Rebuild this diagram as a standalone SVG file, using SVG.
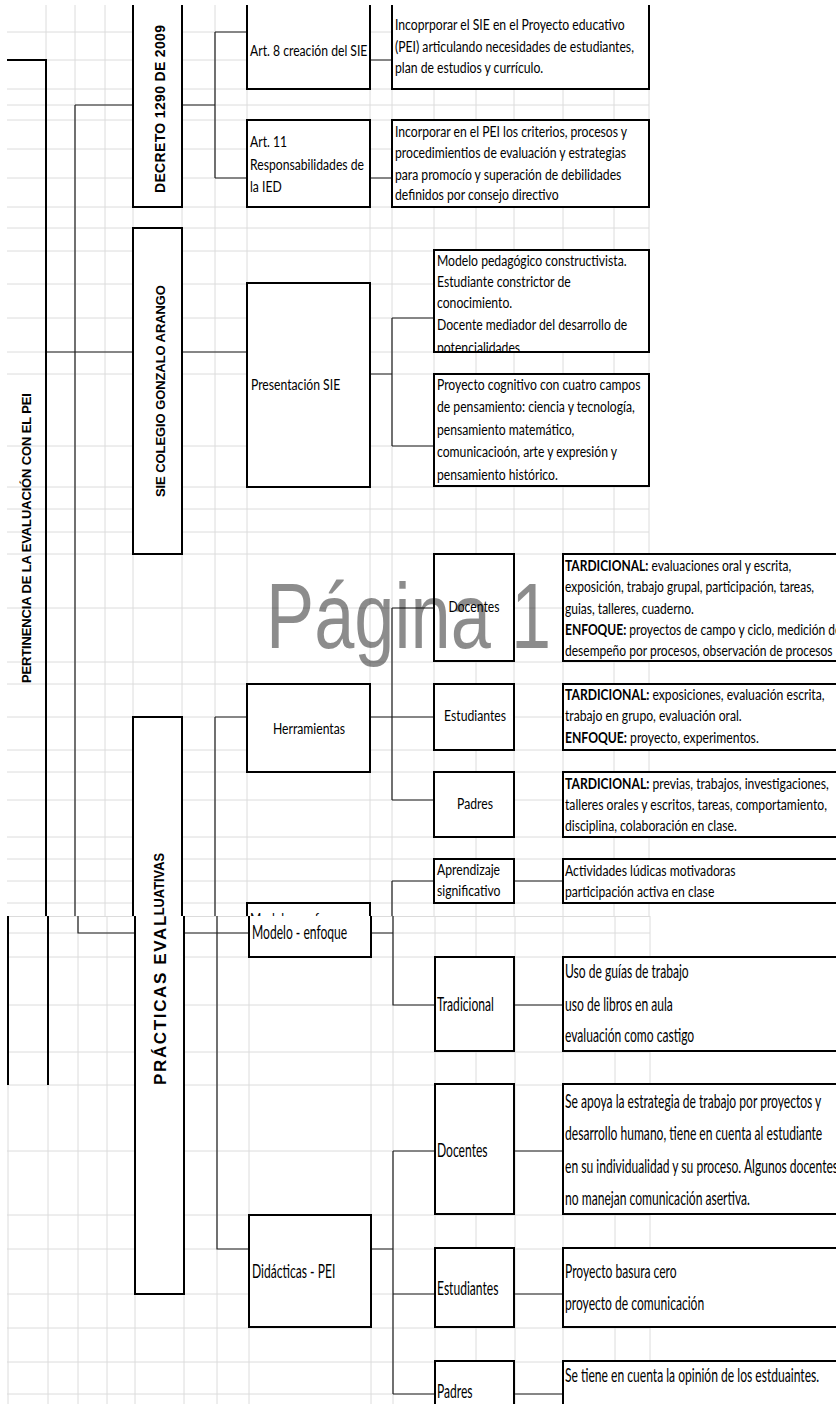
<svg xmlns="http://www.w3.org/2000/svg" width="836" height="1404" viewBox="0 0 836 1404">
<style>
  .grid { fill: none; stroke: #dcdcdc; stroke-width: 1; }
  .box { fill: #fff; stroke: #000; stroke-width: 2; }
  .edge { fill: none; stroke: #000; stroke-width: 2; }
  .conn { fill: none; stroke: #1e1e1e; stroke-width: 1.2; }
  .t { font-family: Lato, "Liberation Sans", sans-serif; font-size: 14.5px; fill: #000; }
  .b { font-family: Lato, "Liberation Sans", sans-serif; font-size: 19.5px; fill: #000; }
  .v { font-family: "Liberation Sans", Arial, sans-serif; font-weight: bold; font-size: 13px; fill: #000; }
  .v14 { font-size: 14px; }
  .v15 { font-size: 15px; }
  .v17 { font-size: 17px; }
  .bold { font-weight: bold; }
</style>
<defs>
  <clipPath id="clipTop"><rect x="0" y="5" width="836" height="911"/></clipPath>
  <clipPath id="clipBot"><rect x="0" y="916" width="836" height="488"/></clipPath>
  <clipPath id="clipModelo"><rect x="434" y="250" width="215" height="101"/></clipPath>
</defs>
<rect width="836" height="1404" fill="#fff"/>

<!-- spreadsheet grid, upper sheet -->
<g id="grid-top" clip-path="url(#clipTop)">
  <path class="grid" d="M46 5V916M75 5V916M105 5V916M133 5V916M182 5V916M215 5V916M247 5V916M370 5V916M392 5V916M434 5V916M476 5V916M514 5V916M563 5V916M614 5V916M649 5V916"/>
  <path class="grid" d="M7 32H649M7 60H649M7 89H649M7 105H649M7 120H649M7 149H649M7 178H649M7 207H649M7 228H649M7 251H649M7 284H649M7 318H649M7 352H649M7 374H649M7 446H649M7 487H649M7 509H649M7 532H649M7 554H649M7 608H649M7 662H649M7 684H649M7 717H649M7 750H649M7 772H649M7 800H649M7 837H649M7 859H649M7 881H649M7 903H649"/>
</g>
<!-- spreadsheet grid, lower sheet -->
<g id="grid-bottom" clip-path="url(#clipBot)">
  <path class="grid" d="M8 916V1404M48 916V1404M78 916V1404M107 916V1404M135 916V1404M184 916V1404M217 916V1404M249 916V1404M371 916V1404M393 916V1404M435 916V1404M476 916V1404M515 916V1404M563 916V1404M615 916V1404M650 916V1404"/>
  <path class="grid" d="M7 916.5H650M7 933H650M7 957H650M7 1005H650M7 1052H650M7 1085H650M7 1151H650M7 1215H650M7 1249H650M7 1294H650M7 1328H650M7 1362H650M7 1394H650"/>
</g>

<!-- connectors -->
<g id="connectors">
  <g clip-path="url(#clipTop)">
    <path class="conn" d="M75 105V916M75 105H133M46 352H133"/>
    <path class="conn" d="M182 105H215M215 32V178M215 32H247M215 178H247"/>
    <path class="conn" d="M370 60H392M370 178H392"/>
    <path class="conn" d="M182 352H247"/>
    <path class="conn" d="M370 374H392M392 318V446M392 318H434M392 446H434"/>
    <path class="conn" d="M215 717V916M215 717H247"/>
    <path class="conn" d="M370 717H392M392 608V800M392 608H434M392 717H434M392 800H434"/>
    <path class="conn" d="M392 881V916M392 881H434M514 881H563"/>
  </g>
  <g clip-path="url(#clipBot)">
    <path class="conn" d="M78 910V933H135"/>
    <path class="conn" d="M184 933H249M217 910V1249H249"/>
    <path class="conn" d="M371 933H393M393 910V1005H435M514 1005H563"/>
    <path class="conn" d="M371 1249H393M393 1151V1394M393 1151H435M514 1151H563M393 1294H435M514 1294H563M393 1394H435M514 1394H563"/>
  </g>
</g>

<!-- root title -->
<g id="n-pertinencia">
  <path class="edge" clip-path="url(#clipTop)" d="M7 60H46V916"/>
  <path class="edge" clip-path="url(#clipBot)" d="M8 910V1085M48 910V1085"/>
  <text class="v" transform="translate(31,538) rotate(-90)" text-anchor="middle" textLength="290">PERTINENCIA DE LA EVALUACIÓN CON EL PEI</text>
</g>

<!-- decreto 1290 -->
<g id="n-decreto" clip-path="url(#clipTop)">
  <rect class="box" x="133" y="-10" width="49" height="217"/>
  <text class="v v14" transform="translate(165,109) rotate(-90)" text-anchor="middle" textLength="168">DECRETO 1290  DE 2009</text>
</g>
<g id="n-art8" clip-path="url(#clipTop)">
  <rect class="box" x="247" y="-10" width="123" height="99"/>
  <text class="t" transform="translate(250,56) scale(.84,1)">Art. 8 creación del SIE</text>
</g>
<g id="n-art8-desc" clip-path="url(#clipTop)">
  <rect class="box" x="392" y="-10" width="257" height="99"/>
  <text class="t" transform="translate(395,30) scale(.84,1)"><tspan x="0" y="0">Incoprporar el SIE en el Proyecto educativo</tspan><tspan x="0" y="22">(PEI) articulando necesidades de estudiantes,</tspan><tspan x="0" y="43">plan de estudios y currículo.</tspan></text>
</g>
<g id="n-art11">
  <rect class="box" x="247" y="120" width="123" height="87"/>
  <text class="t" transform="translate(250,147) scale(.84,1)"><tspan x="0" y="0">Art. 11</tspan><tspan x="0" y="23">Responsabilidades de</tspan><tspan x="0" y="45">la IED</tspan></text>
</g>
<g id="n-art11-desc">
  <rect class="box" x="392" y="120" width="257" height="87"/>
  <text class="t" transform="translate(395,137) scale(.84,1)"><tspan x="0" y="0">Incorporar en el PEI los criterios, procesos y</tspan><tspan x="0" y="21">procedimientios de evaluación y estrategias</tspan><tspan x="0" y="43">para promocío y superación de debilidades</tspan><tspan x="0" y="63">definidos por consejo directivo</tspan></text>
</g>

<!-- SIE colegio -->
<g id="n-sie">
  <rect class="box" x="133" y="228" width="49" height="326"/>
  <text class="v" transform="translate(165,391) rotate(-90)" text-anchor="middle" textLength="212">SIE COLEGIO GONZALO ARANGO</text>
</g>
<g id="n-presentacion">
  <rect class="box" x="247" y="283" width="123" height="204"/>
  <text class="t" transform="translate(251,390) scale(.84,1)">Presentación SIE</text>
</g>
<g id="n-modelo-pedagogico">
  <rect class="box" x="434" y="250" width="215" height="102"/>
  <g clip-path="url(#clipModelo)">
    <text class="t" transform="translate(437,266) scale(.84,1)"><tspan x="0" y="0">Modelo pedagógico constructivista.</tspan><tspan x="0" y="21">Estudiante constrictor de</tspan><tspan x="0" y="42">conocimiento.</tspan><tspan x="0" y="64">Docente mediador del desarrollo de</tspan><tspan x="0" y="87">potencialidades</tspan></text>
  </g>
  <path class="edge" d="M434 352H649"/>
</g>
<g id="n-proyecto-cognitivo">
  <rect class="box" x="434" y="374" width="215" height="112"/>
  <text class="t" transform="translate(437,390) scale(.84,1)"><tspan x="0" y="0">Proyecto cognitivo con cuatro campos</tspan><tspan x="0" y="22">de pensamiento: ciencia y tecnología,</tspan><tspan x="0" y="45">pensamiento matemático,</tspan><tspan x="0" y="67">comunicacioón, arte y expresión y</tspan><tspan x="0" y="90">pensamiento histórico.</tspan></text>
</g>

<!-- prácticas evaluativas -->
<g id="n-practicas">
  <g clip-path="url(#clipTop)">
    <rect class="box" x="133" y="717" width="49" height="260"/>
    <text class="v v15" transform="translate(164,853) rotate(-90)" text-anchor="end" textLength="166" lengthAdjust="spacingAndGlyphs">PRÁCTICAS EVALUATIVAS</text>
  </g>
  <g clip-path="url(#clipBot)">
    <rect class="box" x="135" y="880" width="49" height="414"/>
    <text class="v v17" transform="translate(166,1085) rotate(-90)" textLength="253">PRÁCTICAS EVALUATIVAS</text>
  </g>
</g>
<g id="n-herramientas">
  <rect class="box" x="247" y="684" width="123" height="88"/>
  <text class="t" transform="translate(309,734) scale(.84,1)" text-anchor="middle">Herramientas</text>
</g>
<g id="n-h-docentes">
  <rect class="box" x="434" y="554" width="80" height="107"/>
  <text class="t" transform="translate(474,612) scale(.84,1)" text-anchor="middle">Docentes</text>
</g>
<g id="n-h-docentes-desc">
  <rect class="box" x="563" y="554" width="300" height="107"/>
  <text class="t" transform="translate(565,571) scale(.83,1)"><tspan x="0" y="0"><tspan class="bold">TARDICIONAL:</tspan> evaluaciones oral y escrita,</tspan><tspan x="0" y="21">exposición, trabajo grupal, participación, tareas,</tspan><tspan x="0" y="43">guias, talleres, cuaderno.</tspan><tspan x="0" y="64"><tspan class="bold">ENFOQUE:</tspan> proyectos de campo y ciclo, medición de</tspan><tspan x="0" y="85">desempeño por procesos, observación de procesos</tspan></text>
</g>
<g id="n-h-estudiantes">
  <rect class="box" x="434" y="684" width="80" height="66"/>
  <text class="t" transform="translate(475,721) scale(.84,1)" text-anchor="middle">Estudiantes</text>
</g>
<g id="n-h-estudiantes-desc">
  <rect class="box" x="563" y="684" width="300" height="66"/>
  <text class="t" transform="translate(565,700) scale(.84,1)"><tspan x="0" y="0"><tspan class="bold">TARDICIONAL:</tspan> exposiciones, evaluación escrita,</tspan><tspan x="0" y="21">trabajo en grupo, evaluación oral.</tspan><tspan x="0" y="43"><tspan class="bold">ENFOQUE:</tspan> proyecto, experimentos.</tspan></text>
</g>
<g id="n-h-padres">
  <rect class="box" x="434" y="772" width="80" height="65"/>
  <text class="t" transform="translate(475,809) scale(.84,1)" text-anchor="middle">Padres</text>
</g>
<g id="n-h-padres-desc">
  <rect class="box" x="563" y="772" width="300" height="65"/>
  <text class="t" transform="translate(565,789) scale(.84,1)"><tspan x="0" y="0"><tspan class="bold">TARDICIONAL:</tspan> previas, trabajos, investigaciones,</tspan><tspan x="0" y="21">talleres orales y escritos, tareas, comportamiento,</tspan><tspan x="0" y="42">disciplina, colaboración en clase.</tspan></text>
</g>
<g id="n-aprendizaje" clip-path="url(#clipTop)">
  <rect class="box" x="434" y="859" width="80" height="44"/>
  <text class="t" transform="translate(437,875) scale(.84,1)"><tspan x="0" y="0">Aprendizaje</tspan><tspan x="0" y="21">significativo</tspan></text>
</g>
<g id="n-aprendizaje-desc" clip-path="url(#clipTop)">
  <rect class="box" x="563" y="859" width="300" height="44"/>
  <text class="t" transform="translate(565,876) scale(.84,1)"><tspan x="0" y="0">Actividades lúdicas motivadoras</tspan><tspan x="0" y="21">participación activa en clase</tspan></text>
</g>
<g id="n-modelo-enfoque">
  <g clip-path="url(#clipTop)">
    <rect class="box" x="247" y="903" width="123" height="44"/>
    <text class="t" transform="translate(250,924) scale(.84,1)">Modelo - enfoque</text>
  </g>
  <g clip-path="url(#clipBot)">
    <rect class="box" x="249" y="900" width="122" height="57"/>
    <text class="b" transform="translate(252,939) scale(.62,1)">Modelo - enfoque</text>
  </g>
</g>
<g id="n-tradicional">
  <rect class="box" x="435" y="957" width="79" height="94"/>
  <text class="b" transform="translate(437,1011) scale(.62,1)">Tradicional</text>
</g>
<g id="n-tradicional-desc">
  <rect class="box" x="563" y="957" width="300" height="94"/>
  <text class="b" transform="translate(565,978) scale(.62,1)"><tspan x="0" y="0">Uso de guías de trabajo</tspan><tspan x="0" y="33">uso de libros en aula</tspan><tspan x="0" y="64">evaluación como castigo</tspan></text>
</g>
<g id="n-didacticas">
  <rect class="box" x="249" y="1215" width="122" height="112"/>
  <text class="b" transform="translate(252,1278) scale(.62,1)">Didácticas - PEI</text>
</g>
<g id="n-d-docentes">
  <rect class="box" x="435" y="1084" width="79" height="130"/>
  <text class="b" transform="translate(437,1157) scale(.62,1)">Docentes</text>
</g>
<g id="n-d-docentes-desc">
  <rect class="box" x="563" y="1084" width="300" height="130"/>
  <text class="b" transform="translate(565,1108) scale(.62,1)"><tspan x="0" y="0">Se apoya la estrategia de trabajo por proyectos y</tspan><tspan x="0" y="32">desarrollo humano,  tiene en cuenta al estudiante</tspan><tspan x="0" y="65">en su individualidad y su proceso. Algunos docentes</tspan><tspan x="0" y="97">no manejan comunicación asertiva.</tspan></text>
</g>
<g id="n-d-estudiantes">
  <rect class="box" x="435" y="1248" width="79" height="79"/>
  <text class="b" transform="translate(437,1295) scale(.62,1)">Estudiantes</text>
</g>
<g id="n-d-estudiantes-desc">
  <rect class="box" x="563" y="1248" width="300" height="79"/>
  <text class="b" transform="translate(565,1278) scale(.62,1)"><tspan x="0" y="0">Proyecto basura cero</tspan><tspan x="0" y="32">proyecto de comunicación</tspan></text>
</g>
<g id="n-d-padres">
  <rect class="box" x="435" y="1361" width="79" height="80"/>
  <text class="b" transform="translate(437,1398) scale(.62,1)">Padres</text>
</g>
<g id="n-d-padres-desc">
  <rect class="box" x="563" y="1361" width="300" height="80"/>
  <text class="b" transform="translate(565,1382) scale(.62,1)">Se tiene en cuenta la opinión de los estduaintes.</text>
</g>

<!-- page-break preview watermark -->
<text id="watermark" transform="translate(266,648) scale(.785,1)" font-family="'Liberation Sans', Arial, sans-serif" font-size="92" fill="#000" fill-opacity="0.45">Página 1</text>

<!-- blank strip along the upper edge -->
<rect x="0" y="0" width="836" height="5" fill="#fff"/>
</svg>
